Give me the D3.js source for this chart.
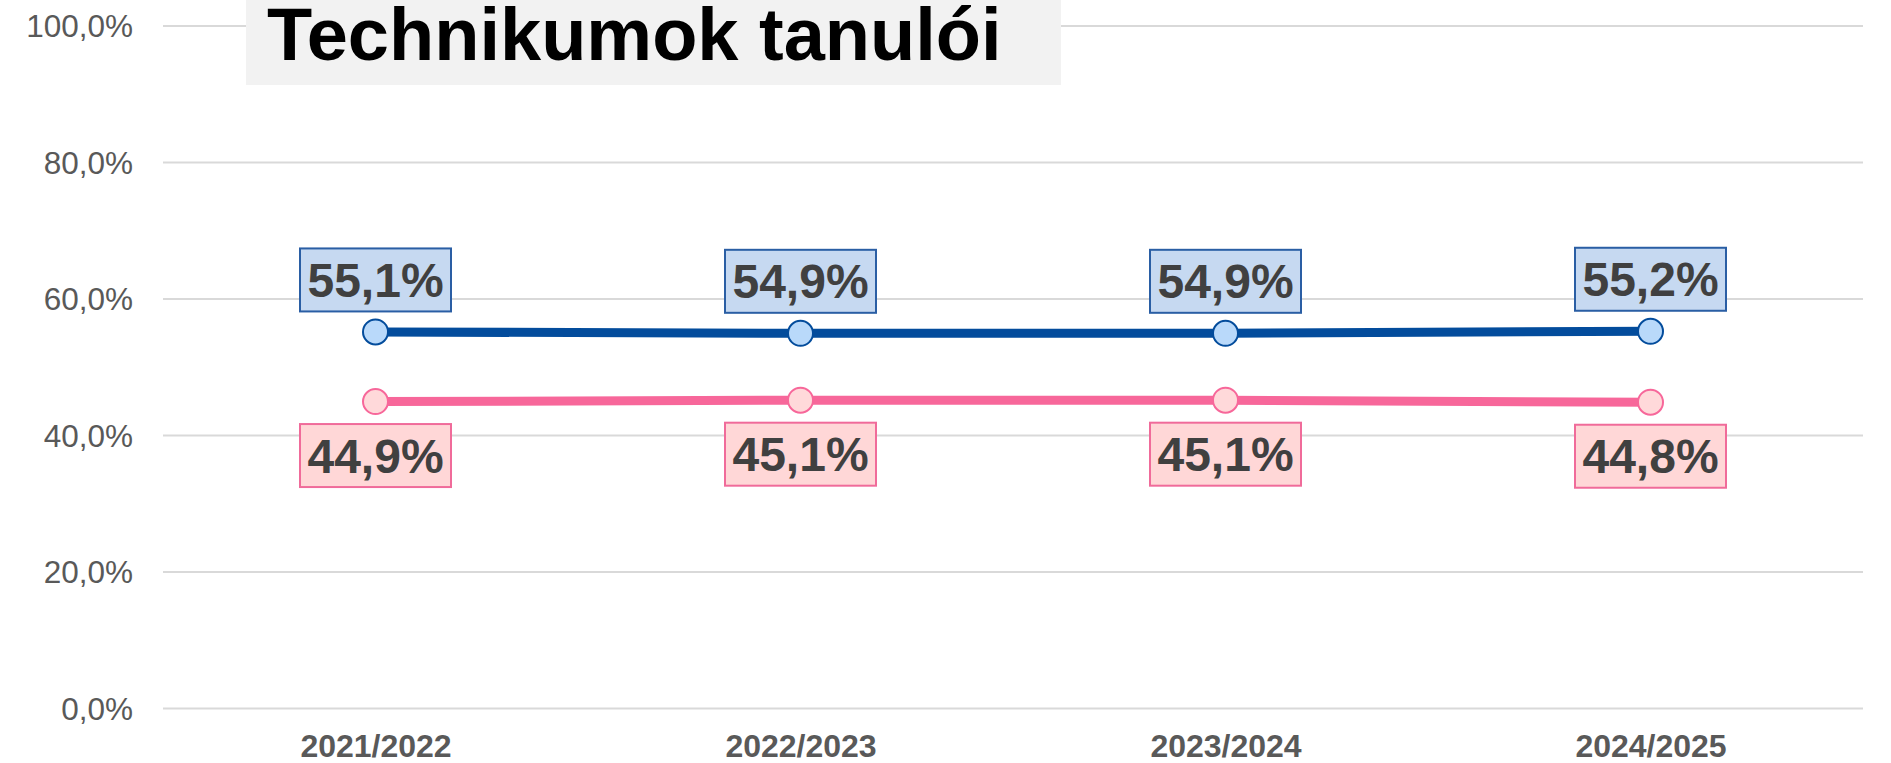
<!DOCTYPE html>
<html><head><meta charset="utf-8">
<script src="https://cdn.jsdelivr.net/npm/d3@7"></script>
<style>html,body{margin:0;padding:0;background:#fff;}svg{display:block;font-family:"Liberation Sans",Arial,sans-serif;}</style>
</head><body>
<svg id="c" width="1891" height="763"></svg>
<script>
const categories = ["2021/2022","2022/2023","2023/2024","2024/2025"];
const seriesBlue = [55.1, 54.9, 54.9, 55.2];
const seriesPink = [44.9, 45.1, 45.1, 44.8];
const yTicks = [0, 20, 40, 60, 80, 100];
const title = "Technikumok tanulói";

const FONT = '"Liberation Sans", Arial, sans-serif';
const svg = d3.select("#c");
const x = d3.scalePoint().domain(categories).range([163, 1863]).padding(0.5);
const y = d3.scaleLinear().domain([0, 100]).range([708, 25.5]);
const fmt = v => v.toFixed(1).replace(".", ",") + "%";

// gridlines + y labels
const yAxis = d3.axisLeft(y).tickValues(yTicks).tickSize(-(1863 - 163)).tickFormat(fmt).tickPadding(30);
const gy = svg.append("g").attr("transform", "translate(163,0)").call(yAxis).attr("font-family", FONT);
gy.select(".domain").remove();
gy.selectAll(".tick line").attr("stroke", "#d9d9d9").attr("stroke-width", 2);
gy.selectAll(".tick text").attr("fill", "#595959").attr("font-size", 31.5).attr("x", -30).attr("dy", "0.36em");

// x axis labels
const xAxis = d3.axisBottom(x).tickSize(0).tickPadding(0);
const gx = svg.append("g").attr("transform", "translate(0,757)").call(xAxis).attr("font-family", FONT);
gx.select(".domain").remove();
gx.selectAll(".tick text").attr("fill", "#595959").attr("font-size", 32).attr("font-weight", "bold").attr("dy", 0).attr("y", 0);

// title
svg.append("rect").attr("x", 246).attr("y", 0).attr("width", 815).attr("height", 85).attr("fill", "#f2f2f2");
svg.append("text").attr("x", 267).attr("y", 60).attr("font-size", 74).attr("font-weight", "bold").attr("fill", "#000").text(title);

const series = [
  {vals: seriesBlue, line: "#034c9c", fill: "#b9d9fa", boxFill: "#c6d9f1", boxStroke: "#2a5ea4", off: -52},
  {vals: seriesPink, line: "#f7679a", fill: "#ffd9da", boxFill: "#ffd7d7", boxStroke: "#f06b9a", off: 54}
];
const line = d3.line().x((d, i) => x(categories[i])).y(d => y(d));
series.forEach(s => {
  svg.append("path").datum(s.vals).attr("d", line).attr("fill", "none").attr("stroke", s.line).attr("stroke-width", 9).attr("stroke-linejoin", "round");
  svg.selectAll(null).data(s.vals).enter().append("circle")
    .attr("cx", (d, i) => x(categories[i])).attr("cy", d => y(d)).attr("r", 12.5)
    .attr("fill", s.fill).attr("stroke", s.line).attr("stroke-width", 2);
  const g = svg.selectAll(null).data(s.vals).enter().append("g")
    .attr("transform", (d, i) => `translate(${x(categories[i])},${y(d) + s.off})`);
  g.append("rect").attr("x", -75.5).attr("y", -31.5).attr("width", 151).attr("height", 63)
    .attr("fill", s.boxFill).attr("stroke", s.boxStroke).attr("stroke-width", 2);
  g.append("text").attr("text-anchor", "middle").attr("y", 17).attr("font-size", 48).attr("font-weight", "bold").attr("fill", "#404040").text(d => fmt(d));
});
</script>
</body></html>
